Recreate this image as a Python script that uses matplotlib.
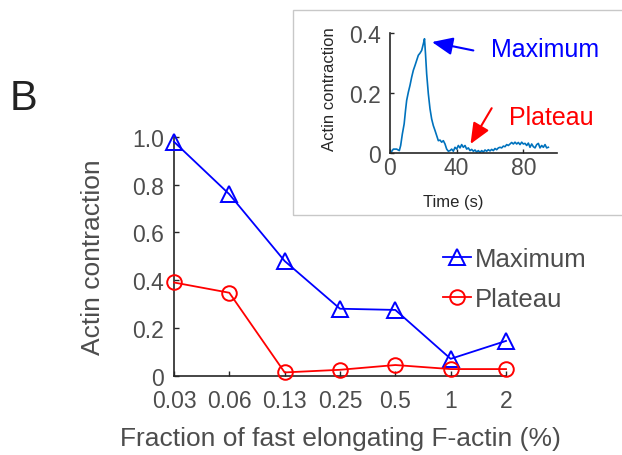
import matplotlib
matplotlib.use("Agg")
import matplotlib.pyplot as plt
from matplotlib.patches import Rectangle

plt.rcParams['font.family'] = ['Liberation Sans', 'DejaVu Sans']

# ---- data ----
categories = ['0.03', '0.06', '0.13', '0.25', '0.5', '1', '2']
maximum = [0.98, 0.76, 0.48, 0.28, 0.275, 0.07, 0.145]
plateau = [0.39, 0.347, 0.013, 0.024, 0.044, 0.027, 0.027]
yticks = [0, 0.2, 0.4, 0.6, 0.8, 1.0]
ytick_labels = ['0', '0.2', '0.4', '0.6', '0.8', '1.0']

# inset time series
time_s = [0.6, 2, 4, 5.6, 6.4, 7.4, 8.5, 9.3, 10, 11, 12, 13, 14, 15, 16, 17, 18, 19, 20, 20.7,
          21.3, 22, 23, 24, 25, 26, 27, 28, 29, 30, 31, 32, 33, 34, 35, 36, 37, 38, 39, 40,
          41, 42, 43, 44, 45, 46, 47, 48, 49, 50, 51, 52, 53, 54, 55, 56, 57, 58, 59, 60,
          61, 62, 63, 64, 65, 66, 67, 68, 69, 70, 71, 72, 73, 74, 75, 76, 77, 78, 79, 80,
          81, 82, 83, 84, 85, 86, 87, 88, 89, 90, 91, 92, 93, 94, 95]
contraction = [0.003, 0.014, 0.014, 0.009, 0.026, 0.064, 0.098, 0.142, 0.176, 0.203, 0.226, 0.253,
               0.276, 0.292, 0.309, 0.326, 0.333, 0.342, 0.364, 0.381,
               0.331, 0.264, 0.198, 0.148, 0.114, 0.092, 0.076, 0.059, 0.042, 0.044, 0.037, 0.042,
               0.031, 0.014, 0.007, 0.009, 0.014, 0.007, 0.020, 0.014,
               0.026, 0.018, 0.029, 0.020, 0.026, 0.014, 0.018, 0.009, 0.013, 0.007, 0.011, 0.004,
               0.009, 0.003, 0.009, 0.004, 0.011, 0.007, 0.012, 0.008,
               0.013, 0.009, 0.016, 0.012, 0.018, 0.020, 0.018, 0.024, 0.022, 0.029, 0.026, 0.031,
               0.036, 0.031, 0.037, 0.031, 0.036, 0.029, 0.037, 0.031,
               0.033, 0.026, 0.034, 0.020, 0.031, 0.022, 0.018, 0.029, 0.033, 0.018, 0.026, 0.020,
               0.029, 0.018, 0.020]
inset_xticks = [0, 40, 80]
inset_yticks = [0, 0.2, 0.4]
inset_ytick_labels = ['0', '0.2', '0.4']

AXC = '#262626'
TXT = '#4d4d4d'

fig = plt.figure(figsize=(6.22, 4.56), dpi=100)

# ---- main axes ----
ax = fig.add_axes([0.2797, 0.1743, 0.5338, 0.5231])
x = list(range(1, len(categories) + 1))
ax.plot(x, maximum, color='#0000ff', lw=1.3, marker='^', ms=12, mfc='none', mew=1.4,
        label='Maximum', clip_on=False, zorder=3)
ax.plot(x, plateau, color='#ff0000', lw=1.3, marker='o', ms=10.5, mfc='none', mew=1.4,
        label='Plateau', clip_on=False, zorder=3)
ax.set_xlim(1, 7)
ax.set_ylim(0, 1.0)
ax.set_xticks(x)
ax.set_xticklabels(categories)
ax.set_yticks(yticks)
ax.set_yticklabels(ytick_labels)
for s in ['top', 'right']:
    ax.spines[s].set_visible(False)
for s in ['left', 'bottom']:
    ax.spines[s].set_color(AXC)
    ax.spines[s].set_linewidth(1.2)
ax.tick_params(direction='in', length=3.5, width=1.0, color=AXC, labelcolor=TXT,
               labelsize=16.5)
ax.tick_params(axis='x', pad=10)
ax.tick_params(axis='y', pad=7)
ax.set_xlabel('Fraction of fast elongating F-actin (%)', fontsize=19, color=TXT)
ax.xaxis.set_label_coords(0.5, -0.21)
ax.set_ylabel('Actin contraction', fontsize=19, color=TXT)
ax.yaxis.set_label_coords(-0.208, 0.5)

leg = ax.legend(loc='center left', bbox_to_anchor=(443 / 622, 1 - 280 / 456),
                bbox_transform=fig.transFigure, frameon=False, fontsize=18.5,
                handlelength=1.1, handletextpad=0.15, labelspacing=0.62,
                borderpad=0, borderaxespad=0)
for t in leg.get_texts():
    t.set_color(TXT)

fig.text(10 / 622, 1 - 110 / 456, 'B', fontsize=30, color='#222222', ha='left',
         va='baseline')

# ---- inset box ----
fig.patches.append(Rectangle((293.3 / 622, 1 - 215.7 / 456), 0.6, (215.7 - 11) / 456,
                             transform=fig.transFigure, fill=False, edgecolor='#c8c8c8',
                             lw=1.0, figure=fig))

# ---- inset axes ----
axi = fig.add_axes([0.627, 0.6616, 0.268, 0.2638])
axi.plot(time_s, contraction, color='#0072BD', lw=1.2)
axi.set_xlim(0, 100)
axi.set_ylim(0, 0.4)
axi.set_xticks(inset_xticks)
axi.set_yticks(inset_yticks)
axi.set_yticklabels(inset_ytick_labels)
for s in ['top', 'right']:
    axi.spines[s].set_visible(False)
for s in ['left', 'bottom']:
    axi.spines[s].set_color(AXC)
    axi.spines[s].set_linewidth(1.2)
axi.tick_params(direction='in', length=3, width=1.0, color=AXC, labelcolor=TXT,
                labelsize=16.5)
axi.tick_params(axis='x', pad=2)
axi.tick_params(axis='y', pad=6.5)
axi.set_xlabel('Time (s)', fontsize=12, color=AXC)
axi.xaxis.set_label_coords(0.378, -0.34)
axi.set_ylabel('Actin contraction', fontsize=12, color=AXC)
axi.yaxis.set_label_coords(-0.318, 0.54)

axi.annotate('', xy=(25.2, 0.37), xytext=(50, 0.342),
             arrowprops=dict(arrowstyle='-|>,head_length=0.7,head_width=0.3',
                             color='#0000ff', lw=1.5, shrinkA=0, shrinkB=0,
                             mutation_scale=18), annotation_clip=False)
axi.text(60.3, 0.348, 'Maximum', color='#0000ff', fontsize=18, ha='left', va='center',
         clip_on=False)
axi.annotate('', xy=(48.3, 0.031), xytext=(61, 0.15),
             arrowprops=dict(arrowstyle='-|>,head_length=0.7,head_width=0.3',
                             color='#ff0000', lw=1.5, shrinkA=0, shrinkB=0,
                             mutation_scale=18), annotation_clip=False)
axi.text(71.4, 0.12, 'Plateau', color='#ff0000', fontsize=18, ha='left', va='center',
         clip_on=False)

fig.savefig('out.png', dpi=100)
